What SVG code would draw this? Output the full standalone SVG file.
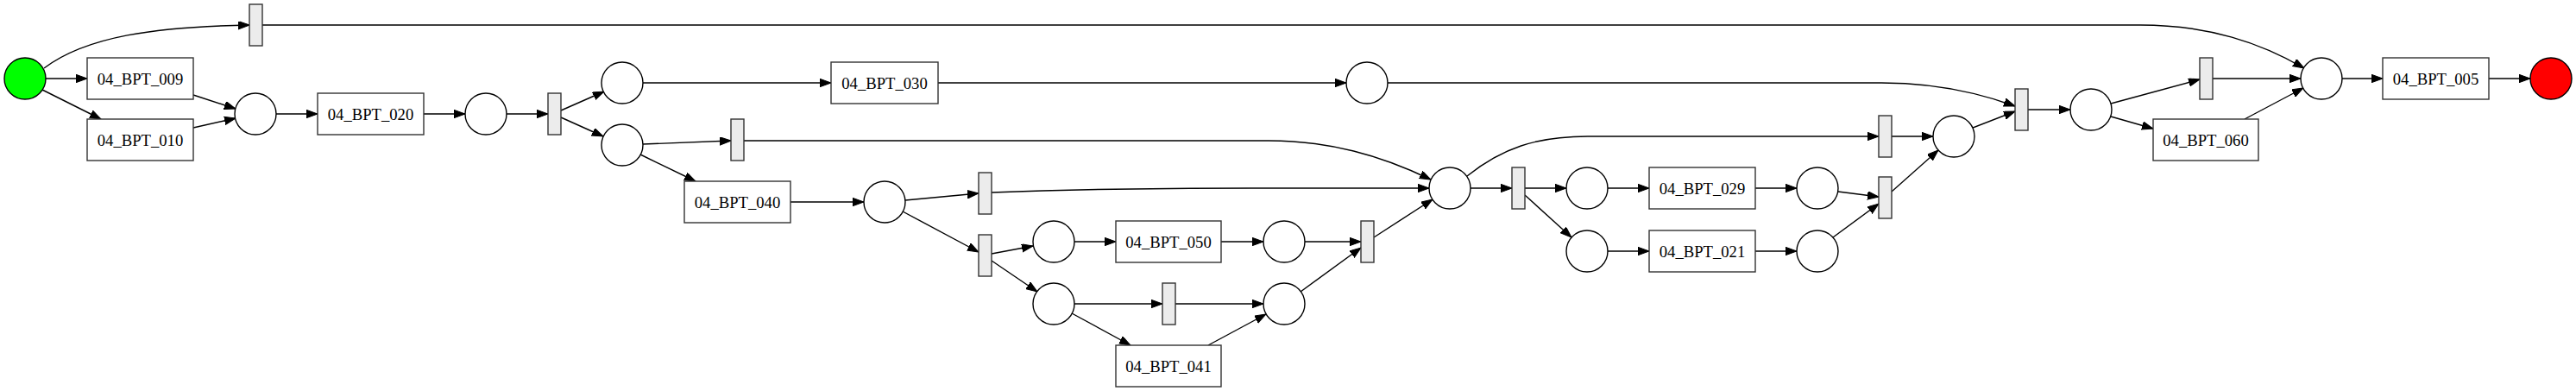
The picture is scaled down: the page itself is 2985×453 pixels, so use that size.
<svg xmlns="http://www.w3.org/2000/svg" width="2985" height="453" viewBox="0 0 2985 453">
<style>
.p{fill:#ffffff;stroke:#000;stroke-width:1.4}
.t{fill:#ececec;stroke:#333;stroke-width:1.4}
.b{fill:#ffffff;stroke:#333;stroke-width:1.4}
.l{font-family:"Liberation Serif","Times New Roman",serif;font-size:18.67px;fill:#000;text-anchor:middle}
.e path{fill:none;stroke:#000;stroke-width:1.4;marker-end:url(#ah)}
</style>
<defs>
<marker id="ah" markerUnits="userSpaceOnUse" markerWidth="14" markerHeight="10" refX="13" refY="4.7" orient="auto">
<path d="M0,0 L13,4.7 L0,9.4 z" fill="#000" stroke="#000" stroke-width="1"/>
</marker>
</defs>
<rect width="2985" height="453" fill="#fff"/>
<g class="e" id="connectors">
<path d="M51,79 C100,42 180,31 289,29"/>
<path d="M53,91 L101,91"/>
<path d="M49,104 L117,138"/>
<path d="M224,110 L273,126"/>
<path d="M224,148 L273,137"/>
<path d="M320,132 L368,132"/>
<path d="M491,132 L539,132"/>
<path d="M587,132 L635,132"/>
<path d="M650,128 L700,106"/>
<path d="M650,136 L699,158"/>
<path d="M745,96 L963,96"/>
<path d="M1087,96 L1560,96"/>
<path d="M1608,96 L2180,96 C2250,96 2300,110 2335,123"/>
<path d="M745,167 L847,163"/>
<path d="M742,179 L806,210"/>
<path d="M862,163 L1470,163 C1540,163 1600,180 1658,208"/>
<path d="M916,234 L1001,234"/>
<path d="M1049,232 L1134,224"/>
<path d="M1149,223 C1250,219 1350,218 1450,218 L1656,218"/>
<path d="M1046,245 L1134,292"/>
<path d="M1149,294 L1197,285"/>
<path d="M1149,302 L1202,338"/>
<path d="M1245,280 L1293,280"/>
<path d="M1415,280 L1464,280"/>
<path d="M1245,352 L1347,352"/>
<path d="M1362,352 L1464,352"/>
<path d="M1242,363 L1310,400"/>
<path d="M1400,400 L1467,364"/>
<path d="M1512,280 L1577,280"/>
<path d="M1507,338 L1577,287"/>
<path d="M1592,275 L1660,231"/>
<path d="M1704,218 L1752,218"/>
<path d="M1700,204 C1740,172 1780,158 1840,158 L2177,158"/>
<path d="M1767,218 L1815,218"/>
<path d="M1767,226 L1821,275"/>
<path d="M1863,218 L1911,218"/>
<path d="M2034,218 L2082,218"/>
<path d="M2130,222 L2177,228"/>
<path d="M1863,291 L1911,291"/>
<path d="M2034,291 L2082,291"/>
<path d="M2124,275 L2177,236"/>
<path d="M2192,222 L2246,174"/>
<path d="M2192,158 L2240,158"/>
<path d="M2286,148 L2335,129"/>
<path d="M2350,127 L2399,127"/>
<path d="M2446,120 L2549,92"/>
<path d="M2446,135 L2495,149"/>
<path d="M2564,91 L2666,91"/>
<path d="M2601,138 L2669,102"/>
<path d="M2714,91 L2761,91"/>
<path d="M2884,91 L2932,91"/>
<path d="M304,29 L2480,29 C2560,29 2620,50 2670,79"/>
</g>
<g id="start"><circle cx="29" cy="91" r="24" fill="#00ff00" stroke="#000" stroke-width="1.4"/></g>
<g id="end"><circle cx="2956" cy="91" r="24" fill="#ff0000" stroke="#000" stroke-width="1.4"/></g>
<g id="T1"><rect class="t" x="289" y="5" width="15" height="48"/></g>
<g id="B009"><rect class="b" x="101" y="67" width="123" height="48"/><text class="l" x="162.5" y="97.5">04_BPT_009</text></g>
<g id="B010"><rect class="b" x="101" y="138" width="123" height="48"/><text class="l" x="162.5" y="168.5">04_BPT_010</text></g>
<g id="P1"><circle class="p" cx="296" cy="132" r="24"/></g>
<g id="B020"><rect class="b" x="368" y="108" width="123" height="48"/><text class="l" x="429.5" y="138.5">04_BPT_020</text></g>
<g id="P2"><circle class="p" cx="563" cy="132" r="24"/></g>
<g id="T2"><rect class="t" x="635" y="108" width="15" height="48"/></g>
<g id="P3"><circle class="p" cx="721" cy="96" r="24"/></g>
<g id="P4"><circle class="p" cx="721" cy="168" r="24"/></g>
<g id="B030"><rect class="b" x="963" y="72" width="124" height="48"/><text class="l" x="1025" y="102.5">04_BPT_030</text></g>
<g id="T3"><rect class="t" x="847" y="138" width="15" height="48"/></g>
<g id="B040"><rect class="b" x="793" y="210" width="123" height="48"/><text class="l" x="854.5" y="240.5">04_BPT_040</text></g>
<g id="P5"><circle class="p" cx="1025" cy="234" r="24"/></g>
<g id="T4"><rect class="t" x="1134" y="200" width="15" height="48"/></g>
<g id="T5"><rect class="t" x="1134" y="272" width="15" height="48"/></g>
<g id="P6"><circle class="p" cx="1221" cy="280" r="24"/></g>
<g id="B050"><rect class="b" x="1293" y="256" width="122" height="48"/><text class="l" x="1354" y="286.5">04_BPT_050</text></g>
<g id="P7"><circle class="p" cx="1488" cy="280" r="24"/></g>
<g id="P8"><circle class="p" cx="1221" cy="352" r="24"/></g>
<g id="T6"><rect class="t" x="1347" y="328" width="15" height="48"/></g>
<g id="P9"><circle class="p" cx="1488" cy="352" r="24"/></g>
<g id="B041"><rect class="b" x="1293" y="400" width="122" height="48"/><text class="l" x="1354" y="430.5">04_BPT_041</text></g>
<g id="T10"><rect class="t" x="1577" y="256" width="15" height="48"/></g>
<g id="P10"><circle class="p" cx="1584" cy="96" r="24"/></g>
<g id="P11"><circle class="p" cx="1680" cy="218" r="24"/></g>
<g id="T8"><rect class="t" x="1752" y="194" width="15" height="48"/></g>
<g id="P13"><circle class="p" cx="1839" cy="218" r="24"/></g>
<g id="B029"><rect class="b" x="1911" y="194" width="123" height="48"/><text class="l" x="1972.5" y="224.5">04_BPT_029</text></g>
<g id="P14"><circle class="p" cx="2106" cy="218" r="24"/></g>
<g id="P15"><circle class="p" cx="1839" cy="291" r="24"/></g>
<g id="B021"><rect class="b" x="1911" y="267" width="123" height="48"/><text class="l" x="1972.5" y="297.5">04_BPT_021</text></g>
<g id="P16"><circle class="p" cx="2106" cy="291" r="24"/></g>
<g id="T9"><rect class="t" x="2177" y="205" width="15" height="48"/></g>
<g id="T7"><rect class="t" x="2177" y="134" width="15" height="48"/></g>
<g id="P12"><circle class="p" cx="2264" cy="158" r="24"/></g>
<g id="T11"><rect class="t" x="2335" y="103" width="15" height="48"/></g>
<g id="P17"><circle class="p" cx="2423" cy="127" r="24"/></g>
<g id="T12"><rect class="t" x="2549" y="67" width="15" height="48"/></g>
<g id="B060"><rect class="b" x="2495" y="138" width="122" height="48"/><text class="l" x="2556" y="168.5">04_BPT_060</text></g>
<g id="P18"><circle class="p" cx="2690" cy="91" r="24"/></g>
<g id="B005"><rect class="b" x="2761" y="67" width="123" height="48"/><text class="l" x="2822.5" y="97.5">04_BPT_005</text></g>
</svg>
